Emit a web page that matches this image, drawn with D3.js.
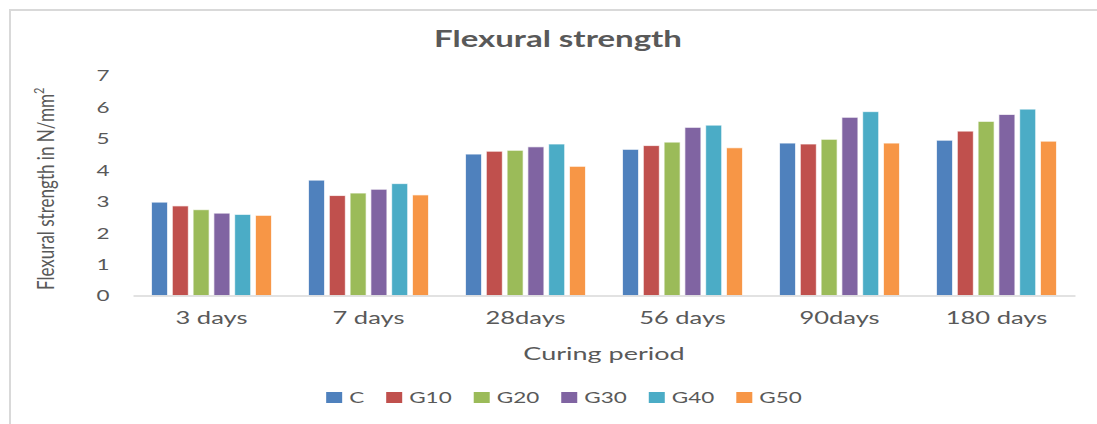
<!DOCTYPE html>
<html>
<head>
<meta charset="utf-8">
<script src="https://cdn.jsdelivr.net/npm/d3@7"></script>
<style>
  body { margin: 0; background: #fff; }
  svg { display: block; }
  text { font-family: Lato, "Open Sans", sans-serif; fill: #595959; }
</style>
</head>
<body>
<svg id="chart" width="1097" height="424"></svg>
<script>
// Curing periods and mix designations
const categories = ["3 days", "7 days", "28days", "56 days", "90days", "180 days"];
const seriesNames = ["C", "G10", "G20", "G30", "G40", "G50"];

// Flexural strength (N/mm²) per mix, one value per curing period
const valuesC   = [2.97, 3.67, 4.50, 4.65, 4.85, 4.94];
const valuesG10 = [2.85, 3.18, 4.59, 4.77, 4.82, 5.23];
const valuesG20 = [2.73, 3.26, 4.62, 4.88, 4.97, 5.54];
const valuesG30 = [2.62, 3.38, 4.73, 5.35, 5.67, 5.76];
const valuesG40 = [2.58, 3.56, 4.82, 5.42, 5.85, 5.93];
const valuesG50 = [2.55, 3.20, 4.11, 4.70, 4.85, 4.91];

const yTicks = [0, 1, 2, 3, 4, 5, 6, 7];

const seriesValues = [valuesC, valuesG10, valuesG20, valuesG30, valuesG40, valuesG50];
const colors = ["#4F81BD", "#C0504D", "#9BBB59", "#8064A2", "#4BACC6", "#F79646"];

// Horizontal stretch applied to the chart's lettering
const SX = 1.5;

const svg = d3.select("#chart");

// Outer chart frame
svg.append("rect")
  .attr("x", 10).attr("y", 10)
  .attr("width", 1100).attr("height", 430)
  .attr("fill", "#fff")
  .attr("stroke", "#d9d9d9").attr("stroke-width", 2);

const plot = { left: 133, right: 1075, top: 75.5, bottom: 295.5 };

const x0 = d3.scaleBand()
  .domain(categories)
  .range([plot.left, plot.right])
  .paddingInner(0.236)
  .paddingOuter(0.118);

const x1 = d3.scaleBand()
  .domain(seriesNames)
  .range([0, x0.bandwidth()])
  .paddingInner(0.23)
  .paddingOuter(0);

const y = d3.scaleLinear()
  .domain([0, 7])
  .range([plot.bottom, plot.top]);

const color = d3.scaleOrdinal().domain(seriesNames).range(colors);

// Title
svg.append("text")
  .attr("transform", `translate(558,47) scale(${SX},1)`)
  .attr("text-anchor", "middle")
  .attr("font-size", 22)
  .attr("font-weight", "bold")
  .text("Flexural strength");

// Y axis (labels only)
const yAxis = svg.append("g")
  .attr("transform", `translate(${plot.left},0)`)
  .call(d3.axisLeft(y).tickValues(yTicks).tickSize(0).tickFormat(d3.format("d")));
yAxis.select(".domain").remove();
yAxis.selectAll("text")
  .attr("x", -30 / SX)
  .attr("dy", "0.36em")
  .attr("text-anchor", "middle")
  .attr("transform", `scale(${SX},1)`)
  .attr("font-size", 15)
  .attr("font-family", "Lato, 'Open Sans', sans-serif")
  .attr("fill", "#595959");

// Y axis title (rotated, glyphs widened across the page)
const yTitle = svg.append("text")
  .attr("transform", "translate(54,290) scale(1.3,1) rotate(-90)")
  .attr("font-size", 18)
  .attr("text-anchor", "start");
yTitle.append("tspan")
  .attr("textLength", 196)
  .attr("lengthAdjust", "spacingAndGlyphs")
  .text("Flexural strength in N/mm");
yTitle.append("tspan")
  .attr("font-size", 11)
  .attr("dy", -8)
  .text("2");

// Bars
const groups = svg.append("g").selectAll("g")
  .data(categories)
  .join("g")
  .attr("transform", d => `translate(${x0(d)},0)`);

groups.selectAll("rect")
  .data((cat, i) => seriesNames.map((s, k) => ({ series: s, value: seriesValues[k][i] })))
  .join("rect")
  .attr("x", d => x1(d.series))
  .attr("y", d => y(d.value))
  .attr("width", x1.bandwidth())
  .attr("height", d => y(0) - y(d.value))
  .attr("fill", d => color(d.series))
  .attr("stroke", "#ffffff")
  .attr("stroke-opacity", 0.7)
  .attr("stroke-width", 1);

// X axis
const xAxis = svg.append("g")
  .attr("transform", `translate(0,${plot.bottom})`)
  .call(d3.axisBottom(x0).tickSize(0).tickSizeOuter(0));
xAxis.select(".domain")
  .attr("stroke", "#d9d9d9")
  .attr("stroke-width", 1.5);
xAxis.selectAll("text")
  .attr("y", 28.5)
  .attr("dy", 0)
  .attr("transform", `scale(${SX},1)`)
  .attr("font-size", 17)
  .attr("font-family", "Lato, 'Open Sans', sans-serif")
  .attr("fill", "#595959");

// X axis title
svg.append("text")
  .attr("transform", `translate(${(plot.left + plot.right) / 2},360) scale(${SX},1)`)
  .attr("text-anchor", "middle")
  .attr("font-size", 18)
  .text("Curing period");

// Legend
const legend = svg.append("g");
const items = legend.selectAll("g")
  .data(seriesNames)
  .join("g");
items.append("rect")
  .attr("width", 16).attr("height", 11)
  .attr("y", -11)
  .attr("fill", d => color(d));
items.append("text")
  .attr("transform", `translate(23,0) scale(${SX},1)`)
  .attr("font-size", 15)
  .text(d => d);

let cursor = 0;
items.each(function () {
  const t = d3.select(this).select("text").node();
  const w = t.getComputedTextLength() * SX;
  d3.select(this).attr("transform", `translate(${cursor},0)`);
  cursor += 23 + w + 22;
});
const legendWidth = cursor - 22;
legend.attr("transform", `translate(${564 - legendWidth / 2},403)`);
</script>
</body>
</html>
